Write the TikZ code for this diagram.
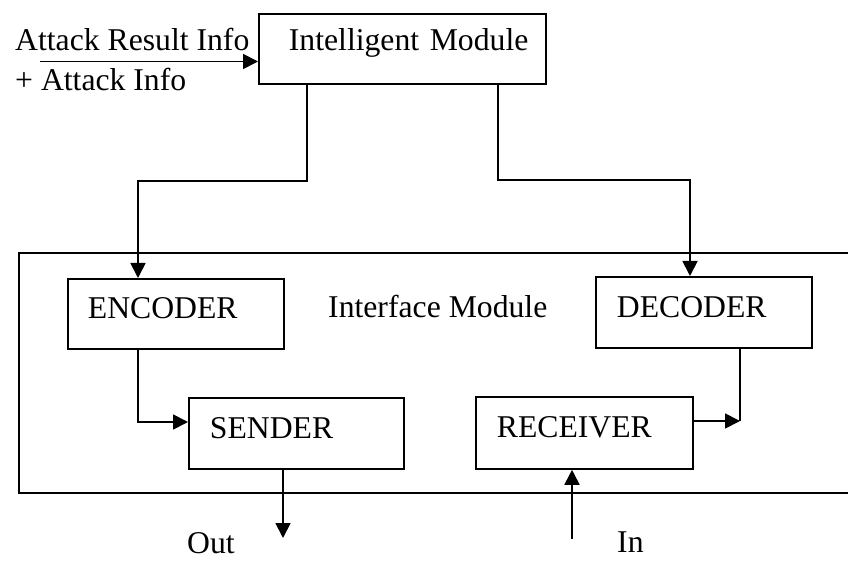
\documentclass[tikz,border=0pt]{standalone}
\usepackage{fontspec}
\setmainfont{Liberation Serif}
\usetikzlibrary{arrows.meta}
\begin{document}
\begin{tikzpicture}[x=1pt,y=-1pt,
  every node/.style={font=\fontsize{31.7}{36}\selectfont},
  ln/.style={line width=1.8pt},
  arr/.style={ln,-{Triangle[length=15pt,width=15pt]}},
  blk/.style args={#1/#2/#3/#4}{draw, ln, anchor=north west, inner sep=0pt,
    text width=#1, text height=#2, text depth=#3, align=left,
    execute at begin node={\hspace*{#4}}},
  lbl/.style={anchor=base west, inner sep=0pt}]

  % canvas
  \path[fill=white, use as bounding box] (0,0) rectangle (848,561);

  % blocks
  \node[blk=287pt/37pt/33pt/30pt] (intel) at (258,13) {Intelligent Module};
  \node[blk=216pt/40pt/30pt/20pt] (enc) at (67,278) {ENCODER};
  \node[blk=215pt/41pt/30pt/21pt] (snd) at (188,397) {SENDER};
  \node[blk=216pt/41pt/30pt/21pt] (dec) at (595,276) {DECODER};
  \node[blk=217pt/41pt/31pt/21pt] (rcv) at (475,396) {RECEIVER};

  % interface frame (open on the right)
  \coordinate (ifTR) at (848,253);
  \coordinate (ifBR) at (848,493);
  \coordinate (ifTL) at (19,253);
  \coordinate (ifBL) at (19,493);
  \draw[ln] (ifTR) -- (ifTL) -- (ifBL) -- (ifBR);

  % labels
  \node[lbl] (iflbl) at (328,317) {Interface Module};
  \node[lbl] (atk1) at (15,51) {Attack Result Info};
  \node[lbl] (atk2) at (15,91) {+ Attack Info};
  \node[lbl] (out) at (187,553) {Out};
  \node[lbl] (in) at (617,552) {In};

  % bend points
  \coordinate (atkstart) at (40,61.5);
  \coordinate (encbend) at (138,181);
  \coordinate (decbend) at (690,180);
  \coordinate (rcvbend) at (740,421);
  \coordinate (outend) at (283,538);
  \coordinate (instart) at (572,539);

  % connectors
  \draw[arr] (atkstart) -- (atkstart -| intel.west);
  \draw[arr] ([xshift=49pt]intel.south west) |- (encbend) -- (encbend |- enc.north);
  \draw[arr] ([xshift=240pt]intel.south west) |- (decbend) -- (decbend |- dec.north);
  \draw[arr] (enc.south -| encbend) |- ([yshift=-25pt]snd.north west);
  \draw[arr] (rcv.east |- rcvbend) -- (rcvbend);
  \draw[ln] (rcvbend) -- (rcvbend |- dec.south);
  \draw[arr] (snd.south -| outend) -- (outend);
  \draw[arr] (instart) -- (instart |- rcv.south);
\end{tikzpicture}
\end{document}
